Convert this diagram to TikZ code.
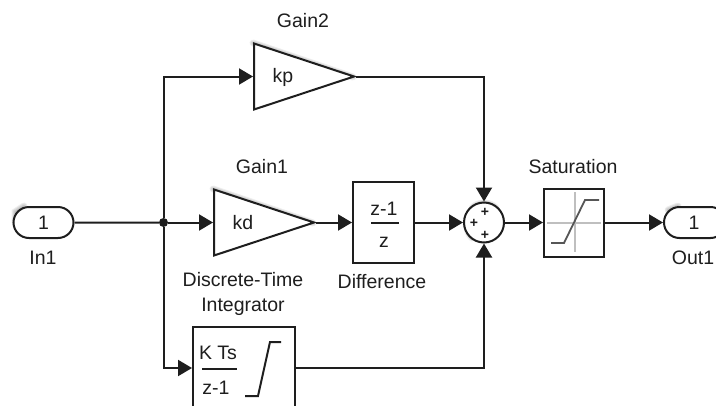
\documentclass[tikz,border=0pt]{standalone}
\usepackage{fontspec}
\usepackage{xcolor}
\setmainfont{Liberation Sans}
\usetikzlibrary{arrows.meta,shapes.geometric,shapes.misc}
\definecolor{inkc}{HTML}{1E1E1E}
\tikzset{
	sig/.style={draw=inkc,line width=2pt,-{Triangle[length=14pt,width=16pt]}},
	wire/.style={draw=inkc,line width=2pt},
	block/.style={draw=inkc,line width=2pt,fill=white,rectangle,inner sep=0pt},
	port/.style={block,rounded rectangle,minimum height=31pt},
	gainblock/.style={draw=inkc,line width=2pt,fill=white,isosceles triangle,isosceles triangle apex angle=67,
		isosceles triangle stretches,minimum height=100pt,minimum width=66pt,inner sep=0pt,anchor=lower side},
	lab/.style={text=inkc,font=\fontsize{19.5}{21}\selectfont,inner sep=0pt},
	plusmark/.style={text=inkc,font=\fontsize{14}{15}\selectfont\bfseries,inner sep=0pt},
	glowline/.style={black,opacity=.07,line cap=round},
}
\begin{document}
\begin{tikzpicture}[x=1pt,y=-1pt]
	\clip (0,0) rectangle (716,405);
	\fill[white] (0,0) rectangle (716,405);
	% weiche Schatten
	\foreach \w in {1,3,5,7} {
		\draw[glowline,line width=\w pt] (253,43) -- (353,77);
		\draw[glowline,line width=\w pt] (213,189) -- (313,223);
		\draw[glowline,line width=\w pt] (472,208) arc (225:315:17);
		\draw[glowline,line width=\w pt] (472,238) arc (135:180:17);
		\draw[glowline,line width=\w pt] (15,222) -- (15,212) -- (24,206);
		\draw[glowline,line width=\w pt] (668,210) -- (678,206);
	}
	% Bloecke
	\node[port,minimum width=60pt] (in1) at (43.5,222.5) {};
	\node[lab] (in1num) at (43.5,222.5) {1};
	\node[gainblock] (gain2) at (253,76.5) {};
	\node[gainblock] (gain1) at (213,222.5) {};
	\node[block,minimum width=61pt,minimum height=81pt] (diff) at (383.5,222.5) {};
	\node[block,circle,minimum size=40pt] (sum) at (484,222.5) {};
	\node[block,minimum width=60pt,minimum height=68pt] (sat) at (574,222.5) {};
	\node[port,minimum width=62pt] (out1) at (695,222.5) {};
	\node[block,minimum width=102pt,minimum height=82pt] (integ) at (244,368) {};
	\node[circle,fill=inkc,minimum size=9pt,inner sep=0pt] (dot) at (163.5,222.5) {};
	% Text
	\node[lab] (kptext) at (283,77) {kp};
	\node[lab] (kdtext) at (243,223) {kd};
	\node[lab] (out1num) at (694,222.5) {1};
	\node[lab] (lin1) at (43,258) {In1};
	\node[lab] (lgain2) at (303,21) {Gain2};
	\node[lab] (lgain1) at (262,167) {Gain1};
	\node[lab] (lint1) at (243,280) {Discrete-Time};
	\node[lab] (lint2) at (243,307) {Integrator};
	\node[lab] (ldiff) at (382,282) {Difference};
	\node[lab] (lsat) at (573,167) {Saturation};
	\node[lab] (lout1) at (693,258) {Out1};
	% Bruch
	\node[lab] (znum) at (384,209) {z-1};
	\node[lab] (zden) at (384,242) {z};
	\draw[wire] (371,223) -- (399,223);
	\node[lab] (kts) at (218,353) {K Ts};
	\node[lab] (zm1) at (216,388) {z-1};
	\draw[wire] (202,369) -- (237,369);
	\draw[wire] (245,396) -- (258,396) -- (270,342) -- (281,342);
	% Saettigung
	\draw[gray!50,line width=1.2pt] (547,223) -- (601,223) (575,192) -- (575,252);
	\draw[inkc!75,line width=1.8pt] (551,243) -- (564,243) -- (585,200) -- (599,200);
	% Summe
	\node[plusmark] (plus1) at (485,212) {+};
	\node[plusmark] (plus2) at (474,223) {+};
	\node[plusmark] (plus3) at (485,235) {+};
	% Leitungen
	\draw[wire] (in1) -- (dot);
	\draw[sig] (dot) -- (gain1.lower side);
	\draw[sig] (dot) |- (gain2.lower side);
	\draw[sig] (dot) |- (integ.west);
	\draw[sig] (gain1.apex) -- (diff.west);
	\draw[sig] (diff.east) -- (sum.west);
	\draw[sig] (gain2.apex) -| (sum.north);
	\draw[sig] (integ.east) -| (sum.south);
	\draw[sig] (sum.east) -- (sat.west);
	\draw[sig] (sat.east) -- (out1.west);
\end{tikzpicture}
\end{document}
